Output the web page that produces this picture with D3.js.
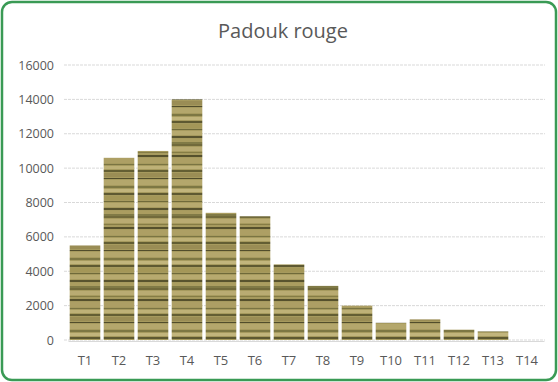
<!DOCTYPE html>
<html><head><meta charset="utf-8">
<script src="https://cdn.jsdelivr.net/npm/d3@7"></script>
<style>
html,body{margin:0;padding:0;background:#fff;}
svg{display:block;}
</style></head>
<body>
<script>
const categories = ["T1","T2","T3","T4","T5","T6","T7","T8","T9","T10","T11","T12","T13","T14"];
const values = [5500,10600,11000,14000,7400,7200,4400,3150,2000,1000,1200,600,500,0];
const yTicks = [0,2000,4000,6000,8000,10000,12000,14000,16000];
const title = "Padouk rouge";

const W = 558, H = 382;
const svg = d3.select("body").append("svg").attr("width", W).attr("height", H);

// wood texture pattern
const defs = svg.append("defs");
const pat = defs.append("pattern").attr("id","wood").attr("patternUnits","userSpaceOnUse")
  .attr("width", 40).attr("height", 72);
pat.append("rect").attr("width",40).attr("height",72).attr("fill","#a69a5e");
const stripes = [
  [0,2,"#716a3b"],[3,4,"#b9ab72"],[8,1,"#857c45"],[11,2,"#55502c"],[14,5,"#ad9f64"],
  [20,1,"#7a7442"],[22,3,"#beb177"],[26,2,"#635e33"],[29,4,"#9a8d55"],[34,1,"#514d2b"],
  [36,5,"#b4a76c"],[42,2,"#7d7743"],[45,3,"#c2b57c"],[49,2,"#5e5931"],[52,4,"#a49758"],
  [57,1,"#6f6a3a"],[59,4,"#b7aa6f"],[64,2,"#58532e"],[67,3,"#aa9d60"],[70,2,"#807a46"]
];
stripes.forEach(s => pat.append("rect").attr("x",0).attr("y",s[0]).attr("width",40).attr("height",s[1]).attr("fill",s[2]));

// border
svg.append("rect").attr("x",2).attr("y",2).attr("width",W-4).attr("height",H-4)
  .attr("rx",10).attr("fill","#fff").attr("stroke","#3a9a55").attr("stroke-width",2.5);

const x = d3.scaleBand().domain(categories).range([68, 544]).paddingInner(0.1).paddingOuter(0.05);
const y = d3.scaleLinear().domain([0,16000]).range([340, 65]);

// gridlines
svg.append("g").selectAll("line").data(yTicks).join("line")
  .attr("x1",64).attr("x2",545).attr("y1",d=>y(d)).attr("y2",d=>y(d))
  .attr("stroke","#d9d9d9").attr("stroke-width",1).attr("stroke-dasharray","3,1");

// y axis
const yAxis = svg.append("g").attr("transform","translate(54,0)")
  .call(d3.axisLeft(y).tickValues(yTicks).tickSize(0).tickPadding(0).tickFormat(d3.format("d")));
yAxis.select(".domain").remove();
yAxis.selectAll("text").attr("fill","#595959").style("font-family","Open Sans, sans-serif").style("font-size","12.5px");

// bars
svg.append("g").selectAll("rect").data(values).join("rect")
  .attr("x",(d,i)=>x(categories[i])).attr("width",x.bandwidth())
  .attr("y",d=>y(d)).attr("height",d=>y(0)-y(d))
  .attr("fill","url(#wood)");

// x axis
const xAxis = svg.append("g").attr("transform","translate(0,341)")
  .call(d3.axisBottom(x).tickSize(0).tickPadding(15));
xAxis.select(".domain").attr("stroke","#d9d9d9");
xAxis.selectAll("text").attr("fill","#595959").style("font-family","Open Sans, sans-serif").style("font-size","13px");

// title
svg.append("text").attr("x",283).attr("y",38).attr("text-anchor","middle")
  .attr("fill","#595959").style("font-family","Open Sans, sans-serif").style("font-size","20px")
  .text(title);
</script>
</body></html>
